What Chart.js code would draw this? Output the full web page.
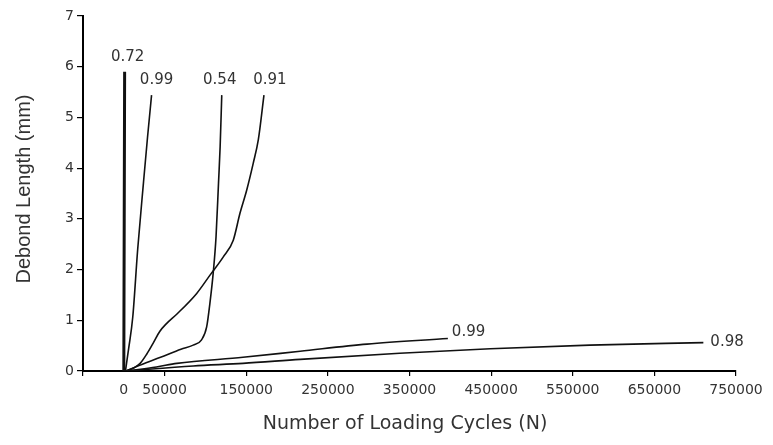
<!DOCTYPE html>
<html>
<head>
<meta charset="utf-8">
<script src="https://cdn.jsdelivr.net/npm/chart.js@4.4.1/dist/chart.umd.min.js"></script>
<style>
    html, body { margin: 0; padding: 0; background: #fff; }
    #wrap { width: 773px; height: 445px; }
</style>
</head>
<body>
<div id="wrap"><canvas id="debondChart" width="773" height="445"></canvas></div>
<script>
// curve labels (as printed next to each curve end)
const curveLabels = ['0.72', '0.99', '0.54', '0.91', '0.99', '0.98'];

// values: loading cycles (N) vs debond length (mm)
const cyclesA = [0, 500, 1000];
const debondA = [0, 3.0, 5.9];

const cyclesB = [2000, 6000, 11000, 17000, 24000, 29000, 34000];
const debondB = [0, 0.45, 1.07, 2.4, 3.7, 4.6, 5.44];

const cyclesC = [2000, 10000, 22000, 45000, 70000, 85000, 95000, 101500, 105500, 109500, 113000, 116000, 118000, 120000];
const debondC = [0, 0.05, 0.13, 0.27, 0.43, 0.51, 0.61, 0.87, 1.34, 1.93, 2.65, 3.7, 4.42, 5.44];

const cyclesD = [3000, 12000, 20000, 28000, 36000, 44000, 52000, 64800, 89300, 105600, 121900, 134100, 142300, 150600, 158600, 164800, 171700];
const debondD = [0, 0.06, 0.15, 0.33, 0.55, 0.78, 0.93, 1.12, 1.53, 1.89, 2.25, 2.58, 3.11, 3.57, 4.10, 4.56, 5.44];

const cyclesE = [3000, 40000, 65000, 146000, 216000, 298000, 397000];
const debondE = [0, 0.08, 0.15, 0.27, 0.39, 0.53, 0.64];

const cyclesF = [3000, 85000, 146000, 216000, 338000, 449000, 571000, 710000];
const debondF = [0, 0.10, 0.15, 0.23, 0.35, 0.44, 0.51, 0.56];

const xTicks = [-50000, 0, 50000, 150000, 250000, 350000, 450000, 550000, 650000, 750000];
const yTicks = [0, 1, 2, 3, 4, 5, 6, 7];

const allCycles = [cyclesA, cyclesB, cyclesC, cyclesD, cyclesE, cyclesF];
const allDebond = [debondA, debondB, debondC, debondD, debondE, debondF];

// label placement relative to the last point of each curve (px)
const labelOffsets = [
    { dx: 3,  dy: -15, align: 'center' },
    { dx: 5,  dy: -15, align: 'center' },
    { dx: -2, dy: -15, align: 'center' },
    { dx: 6,  dy: -15, align: 'center' },
    { dx: 4,  dy: -6,  align: 'left' },
    { dx: 7,  dy: 0,   align: 'left' }
];

const datasets = allCycles.map((xs, i) => ({
    label: curveLabels[i],
    data: xs.map((x, j) => ({ x: x, y: allDebond[i][j] })),
    showLine: true,
    borderColor: '#111',
    borderWidth: i === 0 ? 3 : 1.6,
    pointRadius: 0,
    cubicInterpolationMode: 'monotone',
    fill: false
}));

// draws the curve labels and the axis titles
const annotatePlugin = {
    id: 'annotate',
    afterDraw(chart) {
        const ctx = chart.ctx;
        ctx.save();
        ctx.fillStyle = '#333';
        ctx.font = '15px "DejaVu Sans", Verdana, sans-serif';
        ctx.textBaseline = 'middle';
        chart.data.datasets.forEach((ds, i) => {
            const meta = chart.getDatasetMeta(i);
            const last = meta.data[meta.data.length - 1];
            const off = labelOffsets[i];
            ctx.textAlign = off.align;
            ctx.fillText(ds.label, last.x + off.dx, last.y + off.dy);
        });

        // x title
        ctx.font = '19px "DejaVu Sans", Verdana, sans-serif';
        ctx.textAlign = 'center';
        ctx.fillText('Number of Loading Cycles (N)', 405, 424);

        // y title
        ctx.translate(24, 189);
        ctx.rotate(-Math.PI / 2);
        ctx.font = '20px "Liberation Sans", Arial, sans-serif';
        ctx.fillText('Debond Length (mm)', 0, 0);
        ctx.restore();
    }
};

new Chart(document.getElementById('debondChart'), {
    type: 'scatter',
    data: { datasets: datasets },
    options: {
        responsive: false,
        animation: false,
        layout: { padding: { top: 16, right: 37, left: 0, bottom: 0 } },
        plugins: {
            legend: { display: false },
            tooltip: { enabled: false }
        },
        scales: {
            x: {
                type: 'linear',
                min: -50000,
                max: 750000,
                afterBuildTicks: axis => { axis.ticks = xTicks.map(v => ({ value: v })); },
                afterFit: scale => { scale.height = 74; },
                ticks: {
                    autoSkip: false,
                    maxRotation: 0,
                    padding: 6,
                    color: '#333',
                    font: { family: '"DejaVu Sans", Verdana, sans-serif', size: 14 },
                    callback: v => v === -50000 ? '' : String(v)
                },
                grid: {
                    drawOnChartArea: false,
                    tickLength: 5,
                    lineWidth: 1.2,
                    tickColor: c => (c.tick && c.tick.value === 0) ? 'rgba(0,0,0,0)' : '#000'
                },
                border: { color: '#000', width: 2 }
            },
            y: {
                min: 0,
                max: 7,
                afterBuildTicks: axis => { axis.ticks = yTicks.map(v => ({ value: v })); },
                afterFit: scale => { scale.width = 83; },
                ticks: {
                    padding: 3,
                    color: '#333',
                    font: { family: '"DejaVu Sans", Verdana, sans-serif', size: 14 }
                },
                grid: {
                    drawOnChartArea: false,
                    tickLength: 6,
                    lineWidth: 1.2,
                    tickColor: '#000'
                },
                border: { color: '#000', width: 2 }
            }
        }
    },
    plugins: [annotatePlugin]
});
</script>
</body>
</html>
